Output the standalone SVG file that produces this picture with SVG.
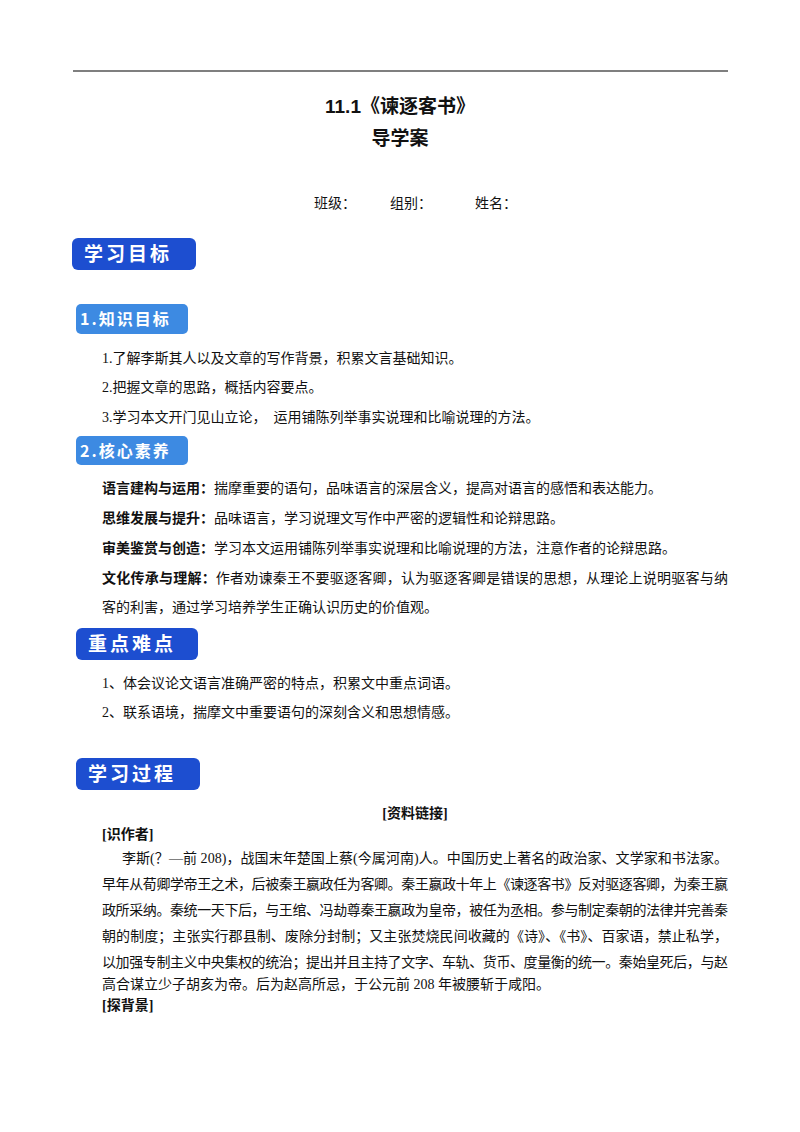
<svg xmlns="http://www.w3.org/2000/svg" width="800" height="1132" viewBox="0 0 800 1132">
<style>
text{font-family:"Liberation Serif","Noto Sans CJK SC",serif;font-size:14px;fill:#111}
.b{font-weight:bold}
.t{font-family:"Liberation Sans","Noto Sans CJK SC",sans-serif;font-size:19px;font-weight:bold;text-anchor:middle}
.bd{font-family:"Noto Sans CJK SC",sans-serif;font-weight:bold;fill:#fff;font-size:19px;letter-spacing:3px}
.bl{font-family:"Noto Sans CJK SC",sans-serif;font-weight:bold;fill:#fff;font-size:16px;letter-spacing:2px}
.dk{fill:#1d4ed0}
.lt{fill:#3d8ae2}
</style>
<rect width="800" height="1132" fill="#fff"/>
<line x1="73" y1="71" x2="728" y2="71" stroke="#000" stroke-width="1.2"/>
<text class="t" x="400" y="113">11.1《谏逐客书》</text>
<text class="t" x="400" y="145">导学案</text>
<text x="314" y="208">班级：</text><text x="390" y="208">组别：</text><text x="475" y="208">姓名：</text>
<g id="b1"><rect class="dk" x="72" y="238" width="124" height="32" rx="6"/><text class="bd" x="84" y="261">学习目标</text></g>
<g id="b2"><rect class="lt" x="76" y="304" width="112" height="30" rx="5"/><text class="bl" x="80" y="325">1.知识目标</text></g>
<text x="102" y="363">1.了解李斯其人以及文章的写作背景，积累文言基础知识。</text>
<text x="102" y="392">2.把握文章的思路，概括内容要点。</text>
<text x="102" y="422" xml:space="preserve">3.学习本文开门见山立论，  运用铺陈列举事实说理和比喻说理的方法。</text>
<g id="b3"><rect class="lt" x="76" y="436" width="112" height="29" rx="5"/><text class="bl" x="80" y="457">2.核心素养</text></g>
<text x="102" y="493"><tspan class="b">语言建构与运用：</tspan>揣摩重要的语句，品味语言的深层含义，提高对语言的感悟和表达能力。</text>
<text x="102" y="523"><tspan class="b">思维发展与提升：</tspan>品味语言，学习说理文写作中严密的逻辑性和论辩思路。</text>
<text x="102" y="553"><tspan class="b">审美鉴赏与创造：</tspan>学习本文运用铺陈列举事实说理和比喻说理的方法，注意作者的论辩思路。</text>
<text x="102" y="583" textLength="626"><tspan class="b">文化传承与理解：</tspan>作者劝谏秦王不要驱逐客卿，认为驱逐客卿是错误的思想，从理论上说明驱客与纳</text>
<text x="102" y="612">客的利害，通过学习培养学生正确认识历史的价值观。</text>
<g id="b4"><rect class="dk" x="76" y="628" width="122" height="32" rx="6"/><text class="bd" x="88" y="651">重点难点</text></g>
<text x="102" y="688">1、体会议论文语言准确严密的特点，积累文中重点词语。</text>
<text x="102" y="717">2、联系语境，揣摩文中重要语句的深刻含义和思想情感。</text>
<g id="b5"><rect class="dk" x="76" y="758" width="124" height="32" rx="6"/><text class="bd" x="88" y="781">学习过程</text></g>
<text class="b" x="415" y="818" text-anchor="middle">[资料链接]</text>
<text class="b" x="102" y="839">[识作者]</text>
<text x="122" y="863" textLength="606">李斯(？—前 208)，战国末年楚国上蔡(今属河南)人。中国历史上著名的政治家、文学家和书法家。</text>
<text x="102" y="889" textLength="626">早年从荀卿学帝王之术，后被秦王嬴政任为客卿。秦王嬴政十年上《谏逐客书》反对驱逐客卿，为秦王嬴</text>
<text x="102" y="915" textLength="626">政所采纳。秦统一天下后，与王绾、冯劫尊秦王嬴政为皇帝，被任为丞相。参与制定秦朝的法律并完善秦</text>
<text x="102" y="941" textLength="626">朝的制度；主张实行郡县制、废除分封制；又主张焚烧民间收藏的《诗》、《书》、百家语，禁止私学，</text>
<text x="102" y="967" textLength="626">以加强专制主义中央集权的统治；提出并且主持了文字、车轨、货币、度量衡的统一。秦始皇死后，与赵</text>
<text x="102" y="989">高合谋立少子胡亥为帝。后为赵高所忌，于公元前 208 年被腰斩于咸阳。</text>
<text class="b" x="102" y="1010">[探背景]</text>
</svg>
